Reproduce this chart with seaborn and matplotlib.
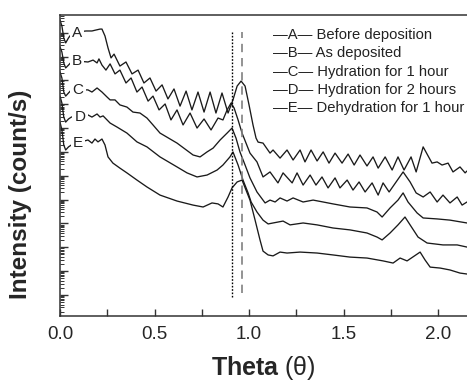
import numpy as np
import matplotlib
matplotlib.use("Agg")
import matplotlib.pyplot as plt
from matplotlib.ticker import LogLocator, MultipleLocator, NullFormatter
import seaborn as sns

# ---------------- data (theta in degrees, log10 intensity) ----------------
theta_A = [0.0, 0.01, 0.02, 0.03, 0.045, 0.06, 0.09, 0.138, 0.169, 0.190, 0.212, 0.222, 0.238, 0.254,
           0.270, 0.286, 0.317, 0.349, 0.381, 0.413, 0.444, 0.476, 0.508, 0.540, 0.571, 0.603, 0.635,
           0.667, 0.698, 0.730, 0.762, 0.794, 0.825, 0.857, 0.889, 0.915, 0.937, 0.958, 0.979, 1.000,
           1.021, 1.037, 1.048, 1.074, 1.111, 1.127, 1.164, 1.201, 1.233, 1.270, 1.296, 1.328, 1.360,
           1.392, 1.423, 1.455, 1.492, 1.524, 1.556, 1.587, 1.624, 1.656, 1.683, 1.720, 1.757, 1.788,
           1.820, 1.857, 1.884, 1.921, 1.968, 1.995, 2.021, 2.053, 2.079, 2.116, 2.143, 2.153]
logI_A = [11.53, 11.28, 10.78, 10.57, 10.78, 10.94, 11.03, 11.07, 11.07, 11.11, 11.15, 11.15, 10.86, 10.36,
          9.94, 10.10, 9.60, 9.77, 9.27, 9.43, 8.89, 9.10, 8.55, 8.81, 8.22, 8.64, 7.92,
          8.55, 7.76, 8.51, 7.67, 8.51, 7.63, 8.47, 7.63, 8.18, 8.76, 8.97, 8.76, 7.97,
          7.13, 6.58, 6.41, 6.37, 5.95, 6.08, 5.74, 6.08, 5.66, 6.08, 5.58, 6.08, 5.62,
          6.00, 5.53, 5.95, 5.53, 5.91, 5.45, 5.87, 5.41, 5.79, 5.32, 5.79, 5.24, 5.79,
          5.24, 5.79, 5.16, 6.21, 5.53, 5.58, 5.45, 5.53, 5.16, 5.37, 5.12, 5.20]

theta_B = [0.0, 0.01, 0.02, 0.03, 0.045, 0.06, 0.09, 0.148, 0.175, 0.196, 0.206, 0.222, 0.243,
           0.265, 0.291, 0.317, 0.349, 0.376, 0.407, 0.434, 0.466, 0.492, 0.524, 0.556, 0.587, 0.619,
           0.651, 0.688, 0.725, 0.762, 0.799, 0.836, 0.862, 0.884, 0.905, 0.921, 0.942, 0.963, 0.984,
           1.005, 1.042, 1.074, 1.111, 1.153, 1.180, 1.228, 1.254, 1.286, 1.323, 1.354, 1.386, 1.418,
           1.455, 1.481, 1.519, 1.550, 1.582, 1.614, 1.651, 1.683, 1.709, 1.741, 1.778, 1.815, 1.852,
           1.884, 1.921, 1.958, 1.995, 2.026, 2.063, 2.101, 2.127, 2.153]
logI_B = [10.40, 10.19, 9.73, 9.52, 9.64, 9.77, 9.81, 9.77, 9.85, 9.73, 9.90, 9.64, 9.43,
          9.69, 9.27, 9.43, 8.89, 9.10, 8.51, 8.72, 8.13, 8.34, 7.76, 8.01, 7.34, 7.76,
          7.13, 7.63, 7.00, 7.38, 6.92, 7.42, 7.34, 7.76, 8.05, 7.84, 7.34, 6.79, 6.37,
          5.95, 5.58, 4.95, 5.16, 4.70, 5.12, 4.70, 5.12, 4.61, 5.03, 4.61, 4.95, 4.49,
          4.91, 4.49, 4.82, 4.40, 4.74, 4.32, 4.70, 4.19, 4.70, 4.32, 4.74, 5.16, 4.74,
          4.28, 4.11, 4.32, 3.90, 4.19, 3.86, 4.11, 3.77, 3.90]

theta_C = [0.0, 0.01, 0.02, 0.03, 0.045, 0.06, 0.09, 0.148, 0.169, 0.196, 0.222, 0.249, 0.265, 0.291,
           0.317, 0.354, 0.386, 0.423, 0.460, 0.492, 0.529, 0.619, 0.704, 0.741, 0.778, 0.810, 0.847,
           0.884, 0.910, 0.931, 0.952, 0.979, 1.005, 1.042, 1.085, 1.111, 1.138, 1.164, 1.201, 1.233,
           1.286, 1.339, 1.392, 1.444, 1.534, 1.624, 1.677, 1.704, 1.746, 1.788, 1.815, 1.841, 1.889,
           1.921, 1.995, 2.063, 2.153]
logI_C = [9.35, 9.10, 8.51, 8.34, 8.47, 8.60, 8.60, 8.60, 8.51, 8.68, 8.51, 8.30, 8.18, 8.18,
          7.97, 7.88, 7.67, 7.63, 7.42, 7.13, 6.79, 6.37, 5.87, 5.79, 6.00, 6.16, 6.50,
          6.79, 7.00, 6.58, 6.00, 5.45, 4.91, 4.32, 3.86, 3.98, 3.90, 4.07, 3.94, 4.07,
          3.90, 3.98, 3.90, 3.82, 3.69, 3.65, 3.48, 3.27, 3.65, 3.98, 4.28, 3.90, 3.44,
          3.23, 3.19, 3.14, 3.02]

theta_D = [0.0, 0.01, 0.02, 0.03, 0.045, 0.06, 0.09, 0.148, 0.169, 0.196, 0.212, 0.228, 0.265, 0.302,
           0.354, 0.407, 0.460, 0.529, 0.619, 0.672, 0.725, 0.778, 0.831, 0.862, 0.899, 0.915, 0.942,
           0.968, 0.995, 1.011, 1.042, 1.074, 1.101, 1.127, 1.180, 1.217, 1.286, 1.360, 1.444, 1.534,
           1.624, 1.677, 1.704, 1.746, 1.788, 1.825, 1.852, 1.894, 1.942, 2.026, 2.101, 2.153]
logI_D = [8.34, 8.05, 7.46, 7.25, 7.38, 7.46, 7.51, 7.55, 7.46, 7.59, 7.46, 7.51, 7.21, 7.04,
          6.79, 6.42, 6.21, 5.79, 5.37, 5.12, 4.95, 5.03, 5.24, 5.45, 5.79, 6.00, 5.45,
          4.82, 4.28, 3.90, 3.48, 3.14, 2.98, 3.02, 3.10, 2.94, 3.02, 2.94, 2.81, 2.73,
          2.60, 2.43, 2.31, 2.60, 2.94, 3.27, 2.94, 2.43, 2.18, 2.10, 2.10, 2.01]

theta_E = [0.0, 0.01, 0.02, 0.03, 0.045, 0.06, 0.09, 0.148, 0.169, 0.185, 0.201, 0.222, 0.238, 0.254,
           0.280, 0.317, 0.354, 0.407, 0.460, 0.529, 0.619, 0.704, 0.757, 0.804, 0.836, 0.862, 0.889,
           0.910, 0.937, 0.963, 0.984, 1.005, 1.032, 1.058, 1.074, 1.101, 1.127, 1.164, 1.201, 1.270,
           1.360, 1.444, 1.534, 1.624, 1.709, 1.762, 1.799, 1.836, 1.905, 1.931, 1.958, 2.011, 2.063,
           2.116, 2.153]
logI_E = [7.25, 6.92, 6.29, 6.08, 6.21, 6.29, 6.37, 6.50, 6.37, 6.54, 6.42, 6.54, 6.29, 5.79,
          5.53, 5.32, 5.12, 4.82, 4.53, 4.19, 3.94, 3.77, 3.69, 3.86, 3.82, 3.69, 4.11,
          4.49, 4.74, 4.82, 4.40, 3.98, 3.14, 2.31, 1.84, 1.68, 1.64, 1.80, 1.76, 1.80,
          1.76, 1.68, 1.59, 1.55, 1.43, 1.34, 1.55, 1.43, 1.80, 1.47, 1.17, 1.13, 1.05,
          0.92, 0.88]

curve_letters = ["A", "B", "C", "D", "E"]
curve_names = ["Before deposition", "As deposited", "Hydration for 1 hour",
               "Hydration for 2 hours", "Dehydration for 1 hour"]
label_theta = [0.090, 0.090, 0.095, 0.106, 0.095]
label_logI = [10.99, 9.81, 8.60, 7.46, 6.37]

ref_theta = [0.910, 0.963]          # dotted, dashed reference lines
ref_logI_top = [11.04, 11.04]
ref_logI_bottom = [-0.07, 0.07]

xticks_major = [0.0, 0.5, 1.0, 1.5, 2.0]
xtick_labels = ["0.0", "0.5", "1.0", "1.5", "2.0"]

# ---------------- plotting ----------------
sns.set_style("ticks")
plt.rcParams["font.family"] = ["Liberation Sans", "DejaVu Sans"]
plt.rcParams["mathtext.fontset"] = "custom"
plt.rcParams["mathtext.bf"] = "Liberation Sans:bold"
plt.rcParams["mathtext.rm"] = "Liberation Sans"

fig = plt.figure(figsize=(4.67, 3.81), dpi=100)
ax = fig.add_axes([60 / 467, 1 - 316 / 381, 1 - 60 / 467, (316 - 15) / 381])

series = [(theta_A, logI_A), (theta_B, logI_B), (theta_C, logI_C),
          (theta_D, logI_D), (theta_E, logI_E)]
for th, li in series:
    sns.lineplot(x=np.array(th), y=10 ** np.array(li), ax=ax, color="#1a1a1a",
                 lw=0.95, sort=False, estimator=None, solid_joinstyle="round")

# reference lines
ax.plot([ref_theta[0]] * 2, [10 ** ref_logI_bottom[0], 10 ** ref_logI_top[0]],
        color="black", lw=1.0, ls=(0, (1.2, 1.2)))
ax.plot([ref_theta[1]] * 2, [10 ** ref_logI_bottom[1], 10 ** ref_logI_top[1]],
        color="#808080", lw=1.2, ls=(0, (5, 3.5)))

# curve letters
for letter, lx, ly in zip(curve_letters, label_theta, label_logI):
    ax.text(lx, 10 ** ly, letter, fontsize=11, ha="center", va="center", color="#222222",
            bbox=dict(boxstyle="square,pad=0.15", fc="white", ec="none"))

ax.set_yscale("log")
ax.set_xlim(0, 2.153)
ax.set_ylim(10 ** -0.88, 10 ** 11.74)
ax.yaxis.set_major_locator(LogLocator(base=10, numticks=100))
ax.yaxis.set_minor_locator(LogLocator(base=10, subs=np.arange(2, 10), numticks=100))
ax.yaxis.set_major_formatter(NullFormatter())
ax.yaxis.set_minor_formatter(NullFormatter())
ax.set_xticks(xticks_major)
ax.set_xticklabels(xtick_labels)
ax.xaxis.set_minor_locator(MultipleLocator(0.25))

ax.tick_params(axis="both", which="both", direction="in", top=False, right=False, color="#333333")
ax.tick_params(axis="y", which="major", length=6, width=1.0)
ax.tick_params(axis="y", which="minor", length=3, width=0.7)
ax.tick_params(axis="x", which="major", length=5, width=1.0, labelsize=13.5, pad=7)
ax.tick_params(axis="x", which="minor", length=5, width=1.0)

for s in ["left", "bottom", "top"]:
    ax.spines[s].set_linewidth(1.1)
    ax.spines[s].set_color("#333333")
ax.spines["right"].set_visible(False)

ax.set_ylabel("Intensity (count/s)", fontsize=17.5, fontweight="bold")
ax.yaxis.set_label_coords(-0.069, 0.405)
ax.set_xlabel(r"$\mathbf{Theta}$ (θ)", fontsize=18)
ax.xaxis.set_label_coords(0.5, -0.125)

# legend block drawn as text
legend_rows_y = [35, 53, 72, 90, 108]
for letter, name, ry in zip(curve_letters, curve_names, legend_rows_y):
    fig.text(273 / 467, 1 - ry / 381, "\u2014" + letter + "\u2014 " + name,
             fontsize=10.6, ha="left", va="center", color="#222222")

fig.savefig("out.png", dpi=100)
